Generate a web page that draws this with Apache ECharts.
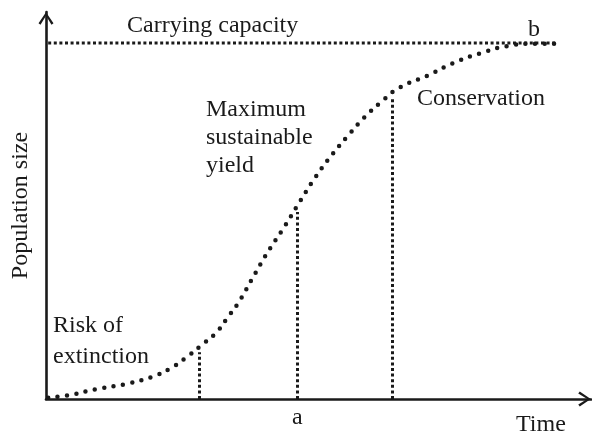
<!DOCTYPE html>
<html>
<head>
<meta charset="utf-8">
<script src="https://cdn.jsdelivr.net/npm/echarts@6/dist/echarts.min.js"></script>
<style>
  html, body { margin: 0; padding: 0; background: #fff; }
  #main { width: 592px; height: 434px; }
</style>
</head>
<body>
<div id="main"></div>
<script>
// logistic growth curve (time 0-100, population 0-100)
var curveTime = [0.4, 4.2, 9.4, 14.7, 19.8, 22.9, 25.9, 28.6, 31.2, 33.4, 35.4, 38.0, 40.7, 43.7,
                 46.4, 49.2, 52.3, 55.2, 58.5, 61.3, 64.8, 69.9, 74.7, 79.8, 84.6, 88.8, 93.9];
var curvePop = [0.3, 1.0, 2.6, 3.9, 5.9, 8.0, 10.9, 14.0, 17.1, 21.2, 25.1, 31.5, 38.0, 44.4,
                50.6, 56.8, 62.8, 67.7, 72.9, 76.5, 80.4, 83.5, 86.8, 89.4, 91.2, 91.8, 91.8];

var capacity = 92.0;
var capacityRange = [0.4, 93.6];

// dotted drop lines: [time, population at top]
var dropTime = [28.1, 46.1, 63.5];
var dropTop = [12.1, 48.3, 78.0];

var tickValues = [46.1];
var tickLabels = ["a"];

var font = "'Liberation Serif', 'Times New Roman', serif";
var ink = "#1a1a1a";
var chevron = "path://M7.5,0 L15,11 L13,12.5 L7.5,3.5 L2,12.5 L0,11 Z";

var myChart = echarts.init(document.getElementById("main"));

var curveData = curveTime.map(function (t, i) { return [t, curvePop[i]]; });

var dropData = [];
dropTime.forEach(function (t, i) {
  dropData.push([{ coord: [t, 0] }, { coord: [t, dropTop[i]] }]);
});

function label(text, x, y) {
  return {
    type: "text",
    x: x,
    y: y,
    style: { text: text, font: "24px " + font, fill: ink, verticalAlign: "middle" },
  };
}

var option = {
  animation: false,
  grid: { left: 46, right: 1, top: 12, bottom: 35 },
  xAxis: {
    type: "value",
    min: 0,
    max: 100,
    splitLine: { show: false },
    axisTick: { show: false },
    axisLine: {
      lineStyle: { color: ink, width: 2.6 },
      symbol: ["none", chevron],
      symbolSize: [15, 13],
      symbolOffset: [0, -6.5],
    },
    axisLabel: {
      customValues: tickValues,
      formatter: function (v) {
        var i = tickValues.indexOf(v);
        return i >= 0 ? tickLabels[i] : "";
      },
      margin: 7,
      color: ink,
      fontFamily: font,
      fontSize: 24,
    },
  },
  yAxis: {
    type: "value",
    min: 0,
    max: 100,
    name: "Population size",
    nameLocation: "middle",
    nameRotate: 90,
    nameGap: 13,
    nameTextStyle: { color: ink, fontFamily: font, fontSize: 24 },
    splitLine: { show: false },
    axisTick: { show: false },
    axisLabel: { show: false },
    axisLine: {
      lineStyle: { color: ink, width: 2.6 },
      symbol: ["none", chevron],
      symbolSize: [15, 13],
      symbolOffset: [0, -6.5],
    },
  },
  series: [
    {
      name: "Carrying capacity",
      type: "line",
      data: [[capacityRange[0], capacity], [capacityRange[1], capacity]],
      showSymbol: false,
      lineStyle: { color: ink, width: 3, type: [3, 2.6] },
      markLine: {
        silent: true,
        symbol: ["none", "none"],
        label: { show: false },
        lineStyle: { color: ink, width: 3, type: [3, 2.6] },
        data: dropData,
      },
    },
    {
      name: "Population",
      type: "line",
      smooth: true,
      data: curveData,
      showSymbol: false,
      lineStyle: { color: ink, width: 4.5, type: [0, 9.5], cap: "round" },
    },
  ],
  graphic: [
    label("Carrying capacity", 127, 26),
    label("b", 528, 30),
    label("Maximum", 206, 110),
    label("sustainable", 206, 138),
    label("yield", 206, 166),
    label("Conservation", 417, 99),
    label("Risk of", 53, 326),
    label("extinction", 53, 357),
    label("Time", 516, 425),
  ],
};

option && myChart.setOption(option);
</script>
</body>
</html>
